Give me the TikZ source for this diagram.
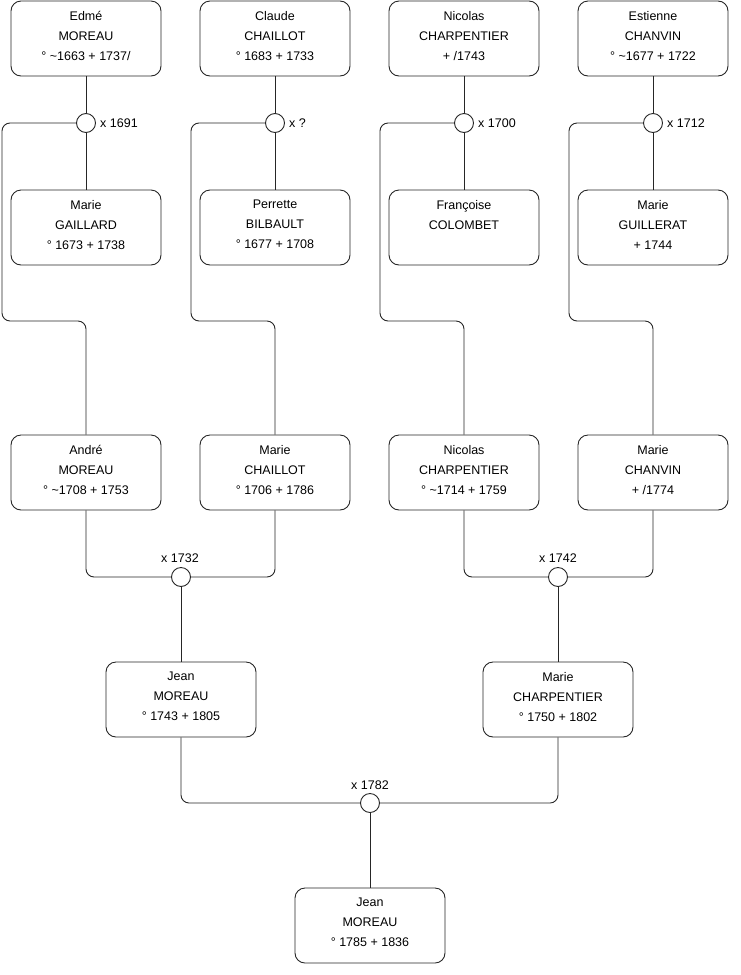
\documentclass[tikz,border=0pt]{standalone}
\usepackage{fontspec}
\setmainfont{Liberation Sans}
\begin{document}
\begin{tikzpicture}[x=1pt,y=-1pt,
  person/.style={draw=black!85, line width=0.9pt, rounded corners=10pt, minimum width=150pt, minimum height=75pt, align=center, font=\fontsize{12.5}{20}\selectfont, inner sep=0pt},
  wed/.style={draw=black!85, line width=0.9pt, fill=white, circle, minimum size=19pt, inner sep=0pt},
  wlab/.style={font=\fontsize{12.5}{15}\selectfont, inner sep=0pt},
  link/.style={draw=black!85, line width=0.9pt, rounded corners=8pt}]
\useasboundingbox (0,0) rectangle (740,975);
% row 1
\node[person] (p1) at (86,38.5) {Edmé\\MOREAU\\° \textasciitilde1663 + 1737/\strut};
\node[person] (p2) at (275,38.5) {Claude\\CHAILLOT\\° 1683 + 1733\strut};
\node[person] (p3) at (464,38.5) {Nicolas\\CHARPENTIER\\+ /1743\strut};
\node[person] (p4) at (653,38.5) {Estienne\\CHANVIN\\° \textasciitilde1677 + 1722\strut};
% row 2
\node[person] (q1) at (86,227.5) {Marie\\GAILLARD\\° 1673 + 1738\strut};
\node[person] (q2) at (275,227.5) {Perrette\\BILBAULT\\° 1677 + 1708\strut};
\node[person] (q3) at (464,227.5) {Françoise\\COLOMBET\\\strut};
\node[person] (q4) at (653,227.5) {Marie\\GUILLERAT\\+ 1744\strut};
% row 3
\node[person] (a1) at (86,472.5) {André\\MOREAU\\° \textasciitilde1708 + 1753\strut};
\node[person] (a2) at (275,472.5) {Marie\\CHAILLOT\\° 1706 + 1786\strut};
\node[person] (a3) at (464,472.5) {Nicolas\\CHARPENTIER\\° \textasciitilde1714 + 1759\strut};
\node[person] (a4) at (653,472.5) {Marie\\CHANVIN\\+ /1774\strut};
% row 4
\node[person] (b1) at (181,699.5) {Jean\\MOREAU\\° 1743 + 1805\strut};
\node[person] (b2) at (558,699.5) {Marie\\CHARPENTIER\\° 1750 + 1802\strut};
% row 5
\node[person] (r) at (370,925.5) {Jean\\MOREAU\\° 1785 + 1836\strut};
% marriage circles
\node[wed] (c1) at (86,123) {};
\node[wed] (c2) at (275,123) {};
\node[wed] (c3) at (464,123) {};
\node[wed] (c4) at (653,123) {};
\node[wed] (m1) at (181,577) {};
\node[wed] (m2) at (558,577) {};
\node[wed] (m3) at (370,803) {};
% labels
\node[wlab, anchor=west] (l1) at (100,123) {x 1691};
\node[wlab, anchor=west] (l2) at (289,123) {x ?};
\node[wlab, anchor=west] (l3) at (478,123) {x 1700};
\node[wlab, anchor=west] (l4) at (667,123) {x 1712};
\node[wlab] (l5) at (180,558) {x 1732};
\node[wlab] (l6) at (558,558) {x 1742};
\node[wlab] (l7) at (370,785) {x 1782};
% connectors, top generation
\foreach \i/\x in {1/2,2/191,3/380,4/569}{
  \draw[link] (p\i.south) -- (c\i.north);
  \draw[link] (c\i.south) -- (q\i.north);
  \draw[link] (c\i.west) -- (\x,123) -- (\x,321) -- (a\i.north |- 0,321) -- (a\i.north);
}
% second generation
\draw[link] (a1.south) |- (m1.west);
\draw[link] (a2.south) |- (m1.east);
\draw[link] (m1.south) -- (b1.north);
\draw[link] (a3.south) |- (m2.west);
\draw[link] (a4.south) |- (m2.east);
\draw[link] (m2.south) -- (b2.north);
% third generation
\draw[link] (b1.south) |- (m3.west);
\draw[link] (b2.south) |- (m3.east);
\draw[link] (m3.south) -- (r.north);
\end{tikzpicture}
\end{document}
